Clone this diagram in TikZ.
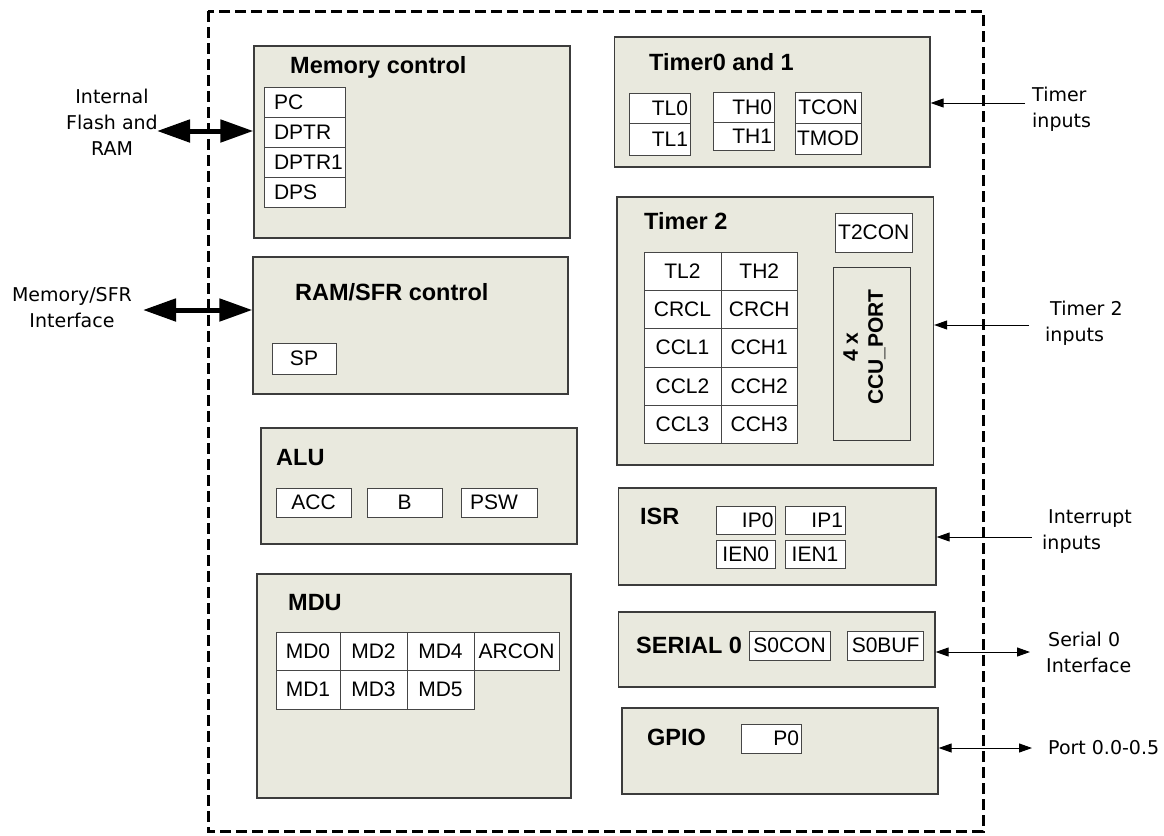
\documentclass[tikz,border=0pt]{standalone}
\usepackage{fontspec}
\setmainfont{Liberation Sans}
\newfontfamily\lblfont{DejaVu Sans}
\usetikzlibrary{arrows.meta}
\definecolor{blkfill}{RGB}{233,233,222}
\definecolor{blkline}{RGB}{60,60,60}
\definecolor{regline}{RGB}{70,70,70}
\tikzset{
 blk/.style={draw=blkline, fill=blkfill, line width=1.3pt, inner sep=0pt},
 reg/.style={draw=regline, fill=white, line width=1pt, inner xsep=2pt, inner ysep=0pt, font=\fontsize{21}{24}\selectfont},
 ttl/.style={inner sep=0pt, font=\fontsize{23.5}{27}\selectfont\bfseries},
 ccut/.style={inner sep=0pt, align=center, font=\fontsize{21}{25}\selectfont\bfseries},
 lbl/.style={inner sep=0pt, font=\lblfont\fontsize{19}{26}\selectfont},
 chipframe/.style={line width=3pt, dash pattern=on 11pt off 5pt},
 bigarr/.style={line width=5pt, {Triangle[length=33pt,width=22pt]}-{Triangle[length=33pt,width=22pt]}},
 arr/.style={line width=1pt, -{Triangle[length=13pt,width=9pt]}},
 darr/.style={line width=1pt, {Triangle[length=13pt,width=9pt]}-{Triangle[length=13pt,width=9pt]}},
}
\newcommand\blkbox[6][blk]{%
 \pgfmathsetmacro\rsW{#5-#3}\pgfmathsetmacro\rsH{#6-#4}%
 \node[#1,minimum width=\rsW pt,minimum height=\rsH pt] (#2) at ({(#3+#5)/2},{(#4+#6)/2}) {};}
\newcommand\regbox[7][center]{%
 \pgfmathsetmacro\rsW{#5-#3}\pgfmathsetmacro\rsH{#6-#4}\pgfmathsetmacro\rsT{#5-#3-4}%
 \node[reg,minimum width=\rsW pt,minimum height=\rsH pt,text width=\rsT pt,align=#1] (#2) at ({(#3+#5)/2},{(#4+#6)/2}) {#7};}
\begin{document}
\begin{tikzpicture}[x=1pt,y=-1pt]
\useasboundingbox (0,0) rectangle (1164,835);
% outer frame
\draw[chipframe] (208,11) rectangle (983,831);
% blocks
\blkbox{memctl}{254}{46}{570}{238}
\blkbox{ramsfr}{253}{257}{568}{394}
\blkbox{alu}{261}{428}{577}{544}
\blkbox{mdu}{257}{574}{571}{798}
\blkbox{tim01}{614.6}{37}{930}{167}
\blkbox{tim2}{617}{197}{933.5}{465}
\blkbox{isr}{618.7}{488}{936}{585}
\blkbox{ser}{618.7}{612}{935}{687}
\blkbox{gpio}{622}{708}{938}{794}
% titles
\node[ttl,anchor=base west] (tmem) at (290,73) {Memory control};
\node[ttl,anchor=base west] (tram) at (295,300) {RAM/SFR control};
\node[ttl,anchor=base west] (talu) at (276,465) {ALU};
\node[ttl,anchor=base west] (tmdu) at (288,610) {MDU};
\node[ttl,anchor=base west] (tt01) at (649,70) {Timer0 and 1};
\node[ttl,anchor=base west] (tt2) at (644,229) {Timer 2};
\node[ttl,anchor=base west] (tisr) at (640,524) {ISR};
\node[ttl,anchor=base west] (tser) at (636,653) {SERIAL 0};
\node[ttl,anchor=base west] (tgpio) at (647,745) {GPIO};
% memory control registers
\regbox[left]{pc}{264}{87}{345}{117}{\hspace*{8pt}PC}
\regbox[left]{dptr}{264}{117}{345}{147}{\hspace*{8pt}DPTR}
\regbox[left]{dptra}{264}{147}{345}{177}{\hspace*{8pt}DPTR1}
\regbox[left]{dps}{264}{177}{345}{207}{\hspace*{8pt}DPS}
% RAM/SFR
\regbox{sp}{272}{343}{336}{374}{SP}
% ALU
\regbox{acc}{276}{488}{351}{517}{ACC}
\regbox{b}{367}{488}{442}{517}{B}
\regbox[left]{psw}{461}{488}{537}{517}{\hspace*{7pt}PSW}
% MDU
\regbox{mda}{276}{632}{340}{670}{MD0}
\regbox{mdc}{340}{632}{407}{670}{MD2}
\regbox{mde}{407}{632}{474}{670}{MD4}
\regbox{arcon}{474}{632}{559}{670}{ARCON}
\regbox{mdb}{276}{670}{340}{709}{MD1}
\regbox{mdd}{340}{670}{407}{709}{MD3}
\regbox{mdf}{407}{670}{474}{709}{MD5}
% Timer 0/1
\regbox[right]{tla}{629.5}{93}{690}{123}{TL0\hspace*{3pt}}
\regbox[right]{tlb}{629.5}{123}{690}{155}{TL1\hspace*{3pt}}
\regbox[right]{tha}{713}{92}{774}{122}{TH0\hspace*{2pt}}
\regbox[right]{thb}{713}{122}{774}{150}{TH1\hspace*{2pt}}
\regbox{tcon}{795}{92}{861}{123}{TCON}
\regbox{tmod}{795}{123}{861}{154}{TMOD}
% Timer 2
\regbox{ttcon}{835.6}{213}{912}{252}{T2CON}
\regbox{tlc}{644}{252}{721}{290}{TL2}
\regbox{thc}{721}{252}{797.5}{290}{TH2}
\regbox{crcl}{644}{290}{721}{328}{CRCL}
\regbox{crch}{721}{290}{797.5}{328}{CRCH}
\regbox{ccla}{644}{328}{721}{367}{CCL1}
\regbox{ccha}{721}{328}{797.5}{367}{CCH1}
\regbox{cclb}{644}{367}{721}{405}{CCL2}
\regbox{cchb}{721}{367}{797.5}{405}{CCH2}
\regbox{cclc}{644}{405}{721}{443}{CCL3}
\regbox{cchc}{721}{405}{797.5}{443}{CCH3}
\blkbox[blk,line width=1pt]{ccu}{833}{267}{910}{440}
\node[ccut,rotate=90] (ccutxt) at (864.5,347) {4 x\\CCU\_PORT};
% ISR
\regbox[right]{ipa}{716}{506}{775.5}{534}{IP0\hspace*{6pt}}
\regbox[right]{ipb}{785}{506}{845}{534}{IP1\hspace*{7pt}}
\regbox{iena}{716}{540}{775.5}{568}{IEN0}
\regbox{ienb}{785}{540}{845}{568}{IEN1}
% Serial
\regbox{socon}{749}{631}{830}{660}{S0CON}
\regbox{sobuf}{847.5}{631}{923.7}{660}{S0BUF}
% GPIO
\regbox[right]{pzero}{741}{724}{801}{753}{P0\hspace*{10pt}}
% outside labels
\node[lbl,align=center] (lflash) at (112,122) {Internal\\Flash and\\RAM};
\node[lbl,align=center] (lmem) at (72,308) {Memory/SFR\\Interface};
\node[lbl,align=left,anchor=west] (ltim) at (1032,109) {Timer\\inputs};
\node[lbl,align=left,anchor=west] (ltimb) at (1045,323) {\hspace*{5pt}Timer 2\\inputs};
\node[lbl,align=left,anchor=west] (lint) at (1042,532) {\hspace*{6pt}Interrupt\\inputs};
\node[lbl,align=left,anchor=west] (lser) at (1046,652) {\hspace*{2pt}Serial 0\\Interface};
\node[lbl,anchor=west] (lport) at (1048,748) {Port 0.0-0.5};
% connectors
\coordinate (cflash) at (157,131);
\coordinate (cmem) at (143,310);
\coordinate (ctim) at (1025,103);
\coordinate (ctimb) at (1029,325);
\coordinate (cint) at (1031.7,537);
\coordinate (cser) at (1030,652);
\coordinate (cport) at (1032,748);
\draw[bigarr] (cflash) -- (cflash -| memctl.west);
\draw[bigarr] (cmem) -- (cmem -| ramsfr.west);
\draw[arr] (ctim) -- (ctim -| tim01.east);
\draw[arr] (ctimb) -- (ctimb -| tim2.east);
\draw[arr] (cint) -- (cint -| isr.east);
\draw[darr] (cser -| ser.east) -- (cser);
\draw[darr] (cport -| gpio.east) -- (cport);
\end{tikzpicture}
\end{document}
